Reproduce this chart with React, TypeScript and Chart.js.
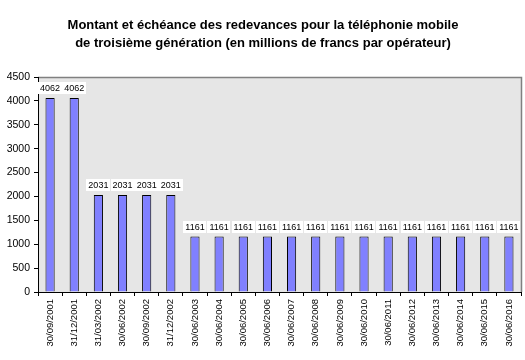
import React, { useEffect, useRef } from "react";
import { Chart, registerables } from "chart.js";

Chart.register(...registerables);

const categories = [
  "30/09/2001", "31/12/2001", "31/03/2002", "30/06/2002", "30/09/2002", "31/12/2002",
  "30/06/2003", "30/06/2004", "30/06/2005", "30/06/2006", "30/06/2007", "30/06/2008",
  "30/06/2009", "30/06/2010", "30/06/2011", "30/06/2012", "30/06/2013", "30/06/2014",
  "30/06/2015", "30/06/2016",
];
const values = [
  4062, 4062, 2031, 2031, 2031, 2031,
  1161, 1161, 1161, 1161, 1161, 1161,
  1161, 1161, 1161, 1161, 1161, 1161,
  1161, 1161,
];
const titleLines = [
  "Montant et échéance des redevances pour la téléphonie mobile",
  "de troisième génération (en millions de francs par opérateur)",
];
const yMax = 4500;
const yStep = 500;

const FONT = "'Liberation Sans', Arial, sans-serif";

export default function App() {
  const ref = useRef<HTMLCanvasElement | null>(null);

  useEffect(() => {
    const canvas = ref.current;
    if (!canvas) return;

    const bgPlugin = {
      id: "plotBg",
      beforeDraw(chart: any) {
        const { ctx, chartArea: a } = chart;
        ctx.save();
        ctx.fillStyle = "#ffffff";
        ctx.fillRect(0, 0, chart.width, chart.height);
        ctx.fillStyle = "#E6E6E6";
        ctx.fillRect(a.left, a.top, a.right - a.left, a.bottom - a.top);
        ctx.strokeStyle = "#808080";
        ctx.lineWidth = 1.5;
        ctx.beginPath();
        ctx.moveTo(a.left, a.top + 0.5);
        ctx.lineTo(a.right + 0.5, a.top + 0.5);
        ctx.lineTo(a.right + 0.5, a.bottom);
        ctx.stroke();
        // title
        ctx.fillStyle = "#000";
        ctx.font = `bold 13px ${FONT}`;
        ctx.textAlign = "center";
        ctx.textBaseline = "middle";
        ctx.fillText(titleLines[0], 263, 25);
        ctx.fillText(titleLines[1], 263, 43);
        ctx.restore();
      },
    };

    const labelPlugin = {
      id: "barLabels",
      afterDatasetsDraw(chart: any) {
        const { ctx } = chart;
        const meta = chart.getDatasetMeta(0);
        ctx.save();
        ctx.font = `9px ${FONT}`;
        ctx.textAlign = "center";
        ctx.textBaseline = "middle";
        meta.data.forEach((bar: any, i: number) => {
          const text = String(values[i]);
          const w = ctx.measureText(text).width;
          const cy = bar.y - 10;
          ctx.fillStyle = "#ffffff";
          ctx.fillRect(Math.round(bar.x - w / 2 - 2), Math.round(cy - 6), Math.round(w + 4), 12);
          ctx.fillStyle = "#000";
          ctx.fillText(text, bar.x, cy + 0.5);
        });
        ctx.restore();
      },
    };

    const chart = new Chart(canvas, {
      type: "bar",
      data: {
        labels: categories,
        datasets: [
          {
            data: values,
            backgroundColor: "#8080FF",
            borderColor: "#000000",
            borderWidth: 1,
            barPercentage: 0.38,
            categoryPercentage: 1,
          },
        ],
      },
      options: {
        responsive: false,
        animation: false,
        devicePixelRatio: 1,
        layout: { padding: { top: 77, left: 0, right: 4, bottom: 0 } },
        plugins: {
          legend: { display: false },
          title: { display: false },
          tooltip: { enabled: false },
        },
        scales: {
          x: {
            offset: true,
            grid: {
              offset: true,
              drawOnChartArea: false,
              drawTicks: true,
              tickLength: 4,
              color: "#000",
            },
            border: { display: true, color: "#000", width: 1 },
            ticks: {
              minRotation: 90,
              maxRotation: 90,
              autoSkip: false,
              padding: 3,
              color: "#000",
              font: { family: FONT, size: 9.5 },
            },
            afterFit(scale: any) {
              scale.height = 68;
            },
          },
          y: {
            min: 0,
            max: yMax,
            grid: {
              drawOnChartArea: false,
              drawTicks: true,
              tickLength: 4,
              color: "#000",
            },
            border: { display: true, color: "#000", width: 1 },
            ticks: {
              stepSize: yStep,
              padding: 4,
              color: "#000",
              font: { family: FONT, size: 10.5 },
              callback: (v: any) => String(v),
            },
            afterFit(scale: any) {
              scale.width = 38;
            },
          },
        },
      },
      plugins: [bgPlugin, labelPlugin],
    });

    return () => chart.destroy();
  }, []);

  return (
    <div style={{ position: "absolute", left: 0, top: 0, width: 525, height: 360, background: "#fff" }}>
      <canvas ref={ref} width={525} height={360} style={{ display: "block", width: 525, height: 360 }} />
    </div>
  );
}
